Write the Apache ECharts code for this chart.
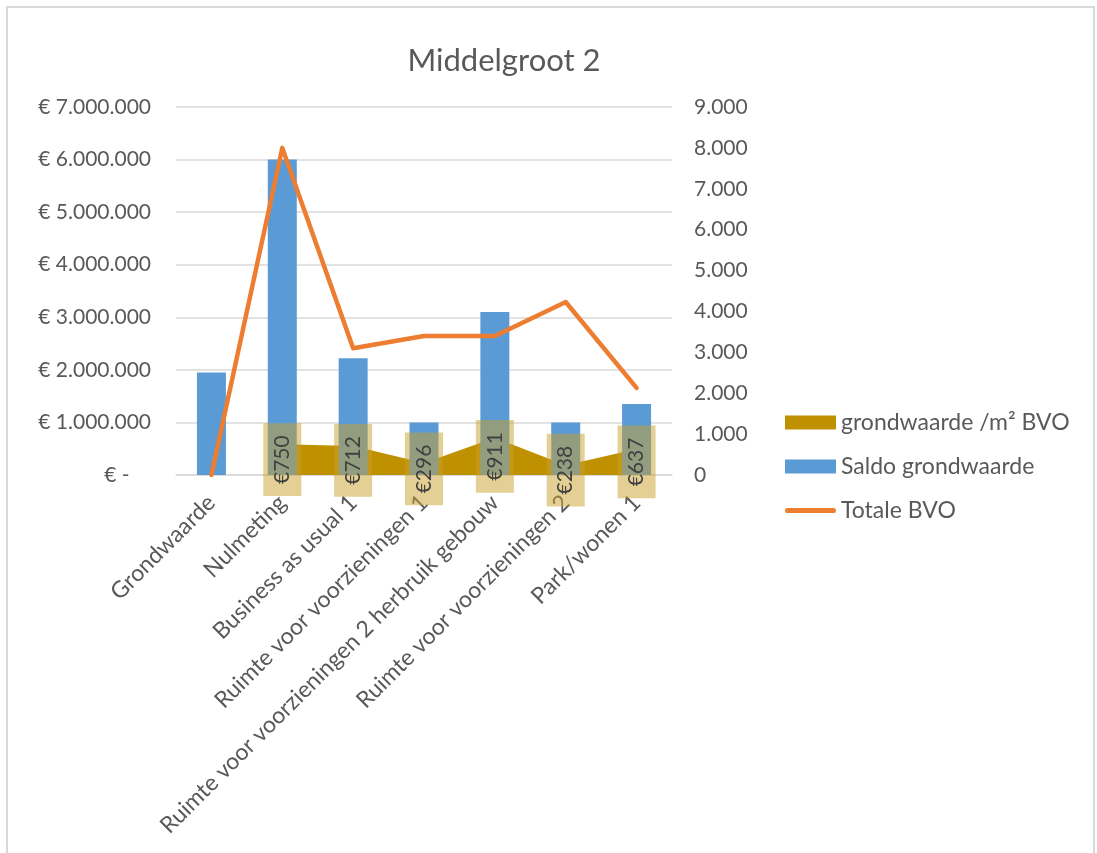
<!DOCTYPE html>
<html>
<head>
<meta charset="utf-8">
<script src="https://cdn.jsdelivr.net/npm/echarts@6/dist/echarts.min.js"></script>
<style>
  html, body { margin: 0; padding: 0; background: #fff; }
  #chart { width: 1097px; height: 853px; }
</style>
</head>
<body>
<div id="chart"></div>
<script>
// categorieën
var categories = ['Grondwaarde', 'Nulmeting', 'Business as usual 1', 'Ruimte voor voorzieningen 1',
    'Ruimte voor voorzieningen 2 herbruik gebouw', 'Ruimte voor voorzieningen 2', 'Park/wonen 1'];
// Saldo grondwaarde (linker as, euro)
var saldoGrondwaarde = [1950000, 6000000, 2220000, 1000000, 3100000, 1000000, 1350000];
// Totale BVO (rechter as)
var totaleBVO = [0, 8000, 3100, 3400, 3400, 4230, 2130];
// grondwaarde /m² BVO (rechter as)
var grondwaardeM2 = [null, 750, 712, 296, 911, 238, 637];

var leftMax = 7000000, leftStep = 1000000;
var rightMax = 9000, rightStep = 1000;

var textColor = '#595959';
var fontName = 'Lato';

function dots(v) {
    return String(Math.round(v)).replace(/\B(?=(\d{3})+(?!\d))/g, '.');
}

var chart = echarts.init(document.getElementById('chart'));

var option = {
    backgroundColor: '#fff',
    textStyle: { fontFamily: fontName },
    graphic: [{
        type: 'rect',
        shape: { x: 7, y: 7, width: 1087, height: 860 },
        style: { fill: 'none', stroke: '#d9d9d9', lineWidth: 2 },
        silent: true
    }],
    title: {
        text: 'Middelgroot 2',
        left: 499,
        textAlign: 'center',
        top: 40,
        textStyle: { fontFamily: fontName, fontSize: 31, fontWeight: 'normal', color: textColor }
    },
    legend: {
        data: [
            { name: 'grondwaarde /m² BVO', icon: 'rect' },
            { name: 'Saldo grondwaarde', icon: 'rect' },
            { name: 'Totale BVO', icon: 'path://M2,0 L48,0 Q50,0 50,2.5 Q50,5 48,5 L2,5 Q0,5 0,2.5 Q0,0 2,0 Z' }
        ],
        orient: 'vertical',
        left: 780,
        top: 406,
        itemWidth: 51,
        itemHeight: 14,
        itemGap: 21,
        symbolKeepAspect: true,
        textStyle: { fontFamily: fontName, fontSize: 23, color: textColor }
    },
    grid: { left: 176, right: 425, top: 107, bottom: 378 },
    xAxis: {
        type: 'category',
        data: categories,
        axisLine: { lineStyle: { color: '#d9d9d9', width: 1.5 } },
        axisTick: { show: false },
        axisLabel: {
            rotate: 45, interval: 0, margin: 24,
            fontFamily: fontName, fontSize: 23, color: textColor
        }
    },
    yAxis: [{
        type: 'value',
        min: 0, max: leftMax, interval: leftStep,
        axisLine: { show: false },
        axisTick: { show: false },
        splitLine: { lineStyle: { color: '#d9d9d9', width: 1.5 } },
        axisLabel: {
            margin: 25, fontFamily: fontName, fontSize: 21, color: textColor,
            formatter: function (v) { return v === 0 ? '€ -    ' : '€ ' + dots(v); }
        }
    }, {
        type: 'value',
        min: 0, max: rightMax, interval: rightStep,
        axisLine: { show: false },
        axisTick: { show: false },
        splitLine: { show: false },
        axisLabel: {
            margin: 22, fontFamily: fontName, fontSize: 21, color: textColor,
            formatter: function (v) { return v === 0 ? '0' : dots(v); }
        }
    }],
    series: [{
        name: 'grondwaarde /m² BVO',
        type: 'line',
        yAxisIndex: 1,
        data: grondwaardeM2,
        symbol: 'none',
        lineStyle: { width: 0, color: '#BF9000' },
        itemStyle: { color: '#BF9000' },
        areaStyle: { color: '#BF9000', opacity: 1 },
        z: 1
    }, {
        name: 'Saldo grondwaarde',
        type: 'bar',
        yAxisIndex: 0,
        data: saldoGrondwaarde,
        barWidth: 29,
        itemStyle: { color: '#5B9BD5' },
        z: 2
    }, {
        // onzichtbare staven alleen voor de labels van grondwaarde /m² BVO
        name: 'labels',
        type: 'bar',
        yAxisIndex: 1,
        data: grondwaardeM2,
        barWidth: 29,
        barGap: '-100%',
        itemStyle: { color: 'rgba(0,0,0,0)' },
        label: {
            show: true,
            position: 'inside',
            rotate: 90,
            fontFamily: fontName,
            fontSize: 21,
            lineHeight: 24,
            color: '#404040',
            backgroundColor: 'rgba(201,160,44,0.5)',
            padding: [7, 12, 7, 12],
            formatter: function (p) { return '€' + p.value; }
        },
        z: 4
    }, {
        name: 'Totale BVO',
        type: 'line',
        yAxisIndex: 1,
        data: totaleBVO,
        symbol: 'none',
        lineStyle: { width: 4.5, color: '#ED7D31', cap: 'round', join: 'round' },
        itemStyle: { color: '#ED7D31' },
        z: 3
    }]
};

chart.setOption(option);
</script>
</body>
</html>
